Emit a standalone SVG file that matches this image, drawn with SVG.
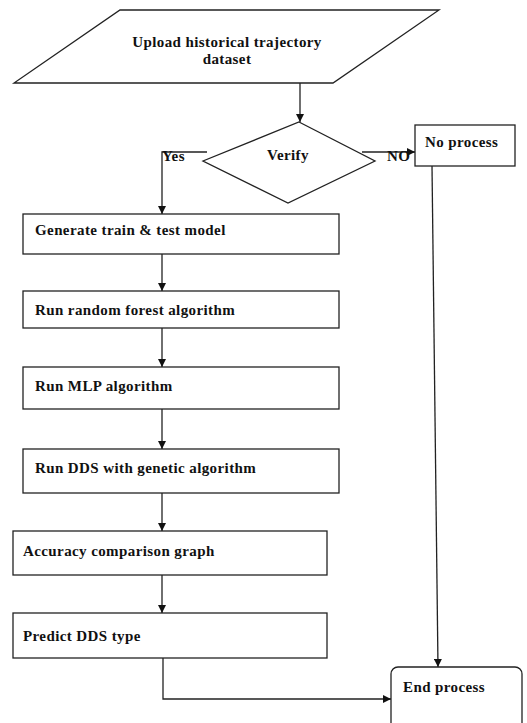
<svg xmlns="http://www.w3.org/2000/svg" width="527" height="723" viewBox="0 0 527 723">
<defs>
<style>
.s{fill:#fff;stroke:#222;stroke-width:1.3}
.t{font-family:'Liberation Serif','Times New Roman','DejaVu Serif',serif;font-weight:700;font-size:15px;letter-spacing:0.4px;fill:#111}
.c{fill:none;stroke:#222;stroke-width:1.3}
</style>
<marker id="a" viewBox="0 0 10 10" refX="10" refY="5" markerWidth="8" markerHeight="8" markerUnits="userSpaceOnUse" orient="auto"><path d="M0,0L10,5L0,10z" fill="#111"/></marker>
</defs>
<rect width="527" height="723" fill="#fff"/>
<g id="upload">
<polygon class="s" points="120,10 439,10 333,83 14,83"/>
<text class="t" x="227" y="47" text-anchor="middle">Upload historical trajectory</text>
<text class="t" x="227" y="64" text-anchor="middle">dataset</text>
</g>
<g id="verify">
<polygon class="s" points="299,122 375,161 288,203 203,161"/>
<text class="t" x="288" y="160" text-anchor="middle">Verify</text>
</g>
<g id="noprocess">
<rect class="s" x="415" y="125" width="100" height="41"/>
<text class="t" x="425" y="147">No process</text>
</g>
<g id="generate">
<rect class="s" x="23" y="214" width="316" height="40"/>
<text class="t" x="35" y="235">Generate train &amp; test model</text>
</g>
<g id="rf">
<rect class="s" x="23" y="291" width="316" height="37"/>
<text class="t" x="35" y="315">Run random forest algorithm</text>
</g>
<g id="mlp">
<rect class="s" x="23" y="367" width="316" height="42"/>
<text class="t" x="35" y="391">Run MLP algorithm</text>
</g>
<g id="dds">
<rect class="s" x="23" y="449" width="316" height="44"/>
<text class="t" x="35" y="473">Run DDS with genetic algorithm</text>
</g>
<g id="accuracy">
<rect class="s" x="13" y="531" width="314" height="44"/>
<text class="t" x="23" y="556">Accuracy comparison graph</text>
</g>
<g id="predict">
<rect class="s" x="13" y="613" width="314" height="45"/>
<text class="t" x="23" y="641">Predict DDS type</text>
</g>
<g id="end">
<rect class="s" x="391" y="667" width="131" height="70" rx="7"/>
<text class="t" x="403" y="692">End process</text>
</g>
<g id="connectors">
<line class="c" x1="300" y1="83" x2="300" y2="122" marker-end="url(#a)"/>
<polyline class="c" points="207,152 162,152 162,214" marker-end="url(#a)"/>
<line class="c" x1="362" y1="152" x2="415" y2="152" marker-end="url(#a)"/>
<line class="c" x1="432" y1="166" x2="438" y2="667" marker-end="url(#a)"/>
<line class="c" x1="162" y1="254" x2="162" y2="291" marker-end="url(#a)"/>
<line class="c" x1="162" y1="328" x2="162" y2="367" marker-end="url(#a)"/>
<line class="c" x1="162" y1="409" x2="162" y2="449" marker-end="url(#a)"/>
<line class="c" x1="162" y1="493" x2="162" y2="531" marker-end="url(#a)"/>
<line class="c" x1="162" y1="575" x2="162" y2="613" marker-end="url(#a)"/>
<polyline class="c" points="163,658 163,699 391,699" marker-end="url(#a)"/>
<text class="t" x="162" y="161">Yes</text>
<text class="t" x="387" y="161">NO</text>
</g>
</svg>
